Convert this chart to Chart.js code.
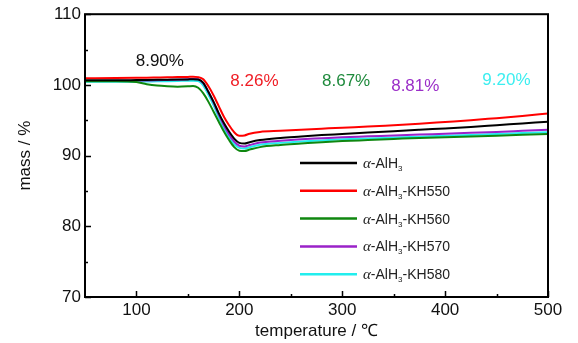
<!DOCTYPE html>
<html>
<head>
<meta charset="utf-8">
<script src="https://cdn.jsdelivr.net/npm/chart.js@4/dist/chart.umd.min.js"></script>
<style>
    html, body { margin: 0; padding: 0; background: #fff; }
    canvas { display: block; }
</style>
</head>
<body>
<canvas id="tgaChart" width="578" height="343"></canvas>
<script>
// Temperature points (°C)
const temperatures = [50, 80, 100, 110, 120, 130, 140, 150, 155, 160, 165, 170, 175, 180, 185, 190, 195, 200, 205, 210, 220, 240, 260, 280, 300, 325, 350, 375, 400, 425, 450, 475, 500];

// Mass (%) for each sample
const massPure = [100.65, 100.65, 100.68, 100.7, 100.72, 100.74, 100.76, 100.78, 100.8, 100.75, 100.3, 99.0, 97.6, 96.0, 94.6, 93.4, 92.4, 91.8, 91.7, 91.9, 92.2, 92.5, 92.7, 92.9, 93.05, 93.25, 93.45, 93.65, 93.85, 94.05, 94.3, 94.55, 94.8];
const massKH550 = [100.95, 100.97, 101.0, 101.02, 101.05, 101.08, 101.1, 101.13, 101.15, 101.1, 100.8, 99.8, 98.5, 97.0, 95.5, 94.3, 93.3, 92.8, 92.85, 93.1, 93.35, 93.5, 93.65, 93.8, 93.95, 94.1, 94.3, 94.5, 94.75, 95.0, 95.3, 95.6, 95.95];
const massKH560 = [100.5, 100.5, 100.4, 100.1, 99.9, 99.8, 99.75, 99.8, 99.85, 99.6, 98.8, 97.6, 96.2, 94.8, 93.4, 92.2, 91.2, 90.7, 90.65, 90.85, 91.2, 91.5, 91.7, 91.9, 92.05, 92.2, 92.35, 92.5, 92.6, 92.7, 92.8, 92.95, 93.05];
const massKH570 = [100.55, 100.57, 100.6, 100.63, 100.66, 100.7, 100.74, 100.8, 100.85, 100.8, 100.2, 99.0, 97.5, 95.8, 94.3, 93.0, 92.0, 91.4, 91.3, 91.5, 91.85, 92.1, 92.3, 92.45, 92.6, 92.72, 92.85, 92.97, 93.1, 93.22, 93.35, 93.5, 93.65];
const massKH580 = [100.45, 100.45, 100.45, 100.47, 100.5, 100.52, 100.55, 100.6, 100.6, 100.55, 99.9, 98.6, 97.1, 95.4, 93.9, 92.6, 91.6, 91.1, 91.0, 91.2, 91.55, 91.8, 92.0, 92.15, 92.3, 92.42, 92.55, 92.68, 92.8, 92.92, 93.05, 93.18, 93.3];

// Series names (suffix after α-AlH3) and total mass loss labels
const sampleSuffixes = ['', '-KH550', '-KH560', '-KH570', '-KH580'];
const lossLabels = ['8.90%', '8.26%', '8.67%', '8.81%', '9.20%'];

// Axis ticks
const xMajorTicks = [100, 200, 300, 400, 500];
const xMinorTicks = [150, 250, 350, 450];
const yMajorTicks = [70, 80, 90, 100, 110];
const yMinorTicks = [75, 85, 95, 105];

// Styling
const lineColors = ['#000000', '#ff0000', '#0f870f', '#9a22c8', '#22eeee'];
const labelColors = ['#111111', '#f01c24', '#1e8a3c', '#9b2ec8', '#3ceef0'];
// Where each loss label sits, in data units
const labelAnchors = [[122.7, 103.4], [214.7, 100.5], [303.8, 100.5], [371, 99.8], [459.6, 100.6]];

const FONT = '"Liberation Sans", Arial, sans-serif';
const seriesMass = [massPure, massKH550, massKH560, massKH570, massKH580];

// Frame, inward ticks, custom legend and loss labels
const decorPlugin = {
    id: 'decor',
    afterDraw(chart) {
        const { ctx, chartArea: area, scales } = chart;
        const xs = scales.x, ys = scales.y;
        ctx.save();

        // box
        ctx.strokeStyle = '#000';
        ctx.lineWidth = 2;
        ctx.strokeRect(area.left, area.top, area.right - area.left, area.bottom - area.top);

        // ticks
        ctx.lineWidth = 1.5;
        ctx.beginPath();
        xMajorTicks.forEach(v => {
            const px = Math.round(xs.getPixelForValue(v)) + 0.5;
            ctx.moveTo(px, area.bottom); ctx.lineTo(px, area.bottom - 6);
        });
        xMinorTicks.forEach(v => {
            const px = Math.round(xs.getPixelForValue(v)) + 0.5;
            ctx.moveTo(px, area.bottom); ctx.lineTo(px, area.bottom - 3);
        });
        yMajorTicks.forEach(v => {
            const py = Math.round(ys.getPixelForValue(v)) + 0.5;
            ctx.moveTo(area.left, py); ctx.lineTo(area.left + 6, py);
        });
        yMinorTicks.forEach(v => {
            const py = Math.round(ys.getPixelForValue(v)) + 0.5;
            ctx.moveTo(area.left, py); ctx.lineTo(area.left + 3, py);
        });
        ctx.stroke();

        // loss labels
        ctx.font = '17px ' + FONT;
        ctx.textAlign = 'center';
        ctx.textBaseline = 'middle';
        lossLabels.forEach((txt, i) => {
            ctx.fillStyle = labelColors[i];
            ctx.fillText(txt, xs.getPixelForValue(labelAnchors[i][0]), ys.getPixelForValue(labelAnchors[i][1]));
        });

        // legend
        const lineX0 = 300, lineX1 = 357, textX = 363;
        const rowY0 = 163, rowStep = 27.8;
        ctx.textAlign = 'left';
        ctx.textBaseline = 'alphabetic';
        sampleSuffixes.forEach((suffix, i) => {
            const y = rowY0 + i * rowStep;
            ctx.strokeStyle = lineColors[i];
            ctx.lineWidth = 2.5;
            ctx.beginPath();
            ctx.moveTo(lineX0, y); ctx.lineTo(lineX1, y);
            ctx.stroke();

            const base = y + 5;
            let x = textX;
            ctx.fillStyle = '#222';
            ctx.font = 'italic 15px "Liberation Serif", "Times New Roman", serif';
            ctx.fillText('α', x, base);
            x += ctx.measureText('α').width;
            ctx.font = '14px ' + FONT;
            ctx.fillText('-AlH', x, base);
            x += ctx.measureText('-AlH').width;
            ctx.font = '8px ' + FONT;
            ctx.fillText('3', x, base + 3);
            x += ctx.measureText('3').width;
            ctx.font = '14px ' + FONT;
            ctx.fillText(suffix, x, base);
        });

        ctx.restore();
    }
};

const datasets = seriesMass.map((mass, i) => ({
    label: 'α-AlH3' + sampleSuffixes[i],
    data: temperatures.map((t, k) => ({ x: t, y: mass[k] })),
    borderColor: lineColors[i],
    borderWidth: 2,
    pointRadius: 0,
    fill: false,
    cubicInterpolationMode: 'monotone'
}));

new Chart(document.getElementById('tgaChart').getContext('2d'), {
    type: 'line',
    data: { datasets },
    options: {
        responsive: false,
        animation: false,
        devicePixelRatio: 1,
        layout: { padding: { top: 13, right: 30, left: 0, bottom: 0 } },
        plugins: { legend: { display: false }, tooltip: { enabled: false } },
        scales: {
            x: {
                type: 'linear',
                min: 50,
                max: 500,
                afterFit: scale => { scale.height = 46; },
                afterBuildTicks: scale => { scale.ticks = xMajorTicks.map(v => ({ value: v })); },
                grid: { display: false, drawTicks: false, tickLength: 0 },
                border: { display: false },
                ticks: { color: '#111', font: { family: FONT, size: 17 }, padding: 3, maxRotation: 0 },
                title: { display: true, text: 'temperature / ℃', color: '#111', font: { family: FONT, size: 17 }, padding: { top: 0, bottom: 1 } }
            },
            y: {
                min: 70,
                max: 110,
                afterFit: scale => { scale.width = 85; },
                afterBuildTicks: scale => { scale.ticks = yMajorTicks.map(v => ({ value: v })); },
                grid: { display: false, drawTicks: false, tickLength: 0 },
                border: { display: false },
                ticks: { color: '#111', font: { family: FONT, size: 17 }, padding: 4 },
                title: { display: true, text: 'mass / %', color: '#111', font: { family: FONT, size: 17 }, padding: { top: 15, bottom: 0 } }
            }
        }
    },
    plugins: [decorPlugin]
});
</script>
</body>
</html>
